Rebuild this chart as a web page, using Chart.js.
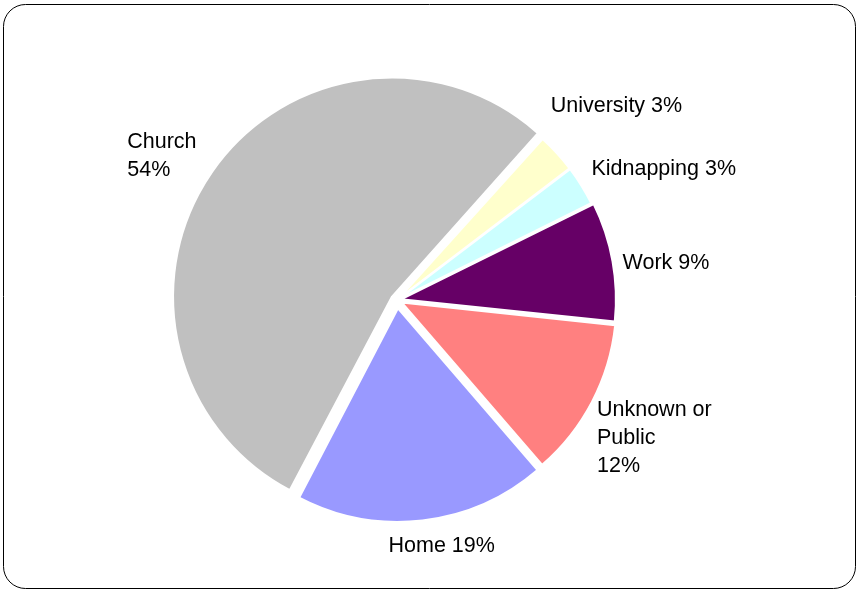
<!DOCTYPE html>
<html>
    <head>
        <meta charset = "UTF-8">
        <title>Pie</title>
        <script src = "https://cdn.jsdelivr.net/npm/chart.js@4.4.1/dist/chart.umd.min.js"></script>
        <style>
            body{margin:0;background:#fff;}
            #wrap{position:relative;width:857px;height:590px;}
        </style>
    </head>
    <body>
        <div id = "wrap"><canvas id = "pie" width = "857" height = "590"></canvas></div>

        <script>
            // slices go clockwise, starting at University
            const categories = ['University','Kidnapping','Work','Unknown or\nPublic','Home','Church'];
            const values = [3,3,9,12,19,54];
            const colors = ['#FFFFCC','#CCFFFF','#660066','#FF8080','#9999FF','#C0C0C0'];
            // how far each slice is pulled out (px)
            const explode = [4,4,6,7,9,12];

            // label placement: nudge from the slice's outer mid point,
            // and whether the percent goes on its own line
            const labelLayout = [
                {dx:-6,  dy:-47, newLine:false},
                {dx:10,  dy:-17, newLine:false},
                {dx:10,  dy:2,   newLine:false},
                {dx:5,   dy:36,  newLine:true},
                {dx:-34, dy:26,  newLine:false},
                {dx:-85, dy:-16, newLine:true}
            ];

            const FONT = '21.5px "Liberation Sans", Arial, sans-serif';
            const LINE = 28;

            // chart.js moves an arc by offset/4 * (2 - sin(circumference)),
            // so turn the wanted pixel distance into the option value
            const total = values.reduce((a,b)=>a+b,0);
            const offsetOpt = explode.map((e,i)=>{
                const circ = values[i]/total*Math.PI*2;
                return 4*e/(2 - Math.sin(Math.min(Math.PI,circ)));
            });

            const frame = {
                id:'frame',
                beforeDraw(chart){
                    const ctx = chart.ctx;
                    ctx.save();
                    ctx.fillStyle = '#fff';
                    ctx.fillRect(0,0,chart.width,chart.height);
                    ctx.beginPath();
                    ctx.roundRect(3.5,4.5,852,584,22);
                    ctx.strokeStyle = '#000';
                    ctx.lineWidth = 1;
                    ctx.stroke();
                    ctx.restore();
                }
            };

            const sliceLabels = {
                id:'sliceLabels',
                afterDatasetsDraw(chart){
                    const ctx = chart.ctx;
                    const arcs = chart.getDatasetMeta(0).data;
                    ctx.save();
                    ctx.font = FONT;
                    ctx.fillStyle = '#000';
                    ctx.textAlign = 'left';
                    ctx.textBaseline = 'middle';
                    arcs.forEach((arc,i)=>{
                        const p = arc.getProps(['x','y','startAngle','endAngle','outerRadius']);
                        const mid = (p.startAngle + p.endAngle)/2;
                        const d = p.outerRadius + explode[i];
                        const ax = p.x + Math.cos(mid)*d;
                        const ay = p.y + Math.sin(mid)*d;
                        const lay = labelLayout[i];
                        const lines = categories[i].split('\n');
                        const pct = values[i] + '%';
                        if(lay.newLine) lines.push(pct);
                        else lines[lines.length-1] += ' ' + pct;
                        const top = ay + lay.dy - (lines.length-1)*LINE/2;
                        lines.forEach((t,k)=>{
                            ctx.fillText(t, ax + lay.dx, top + k*LINE);
                        });
                    });
                    ctx.restore();
                }
            };

            new Chart(document.getElementById('pie'),{
                type:'pie',
                data:{
                    labels:categories.map(c=>c.replace('\n',' ')),
                    datasets:[{
                        data:values,
                        backgroundColor:colors,
                        borderColor:'#ffffff',
                        borderWidth:2,
                        offset:offsetOpt,
                        hoverOffset:0
                    }]
                },
                options:{
                    responsive:false,
                    animation:false,
                    rotation:42,
                    radius:213,
                    layout:{padding:{left:0,right:63,top:10,bottom:0}},
                    plugins:{
                        legend:{display:false},
                        tooltip:{enabled:false}
                    }
                },
                plugins:[frame,sliceLabels]
            });
        </script>
    </body>
</html>
